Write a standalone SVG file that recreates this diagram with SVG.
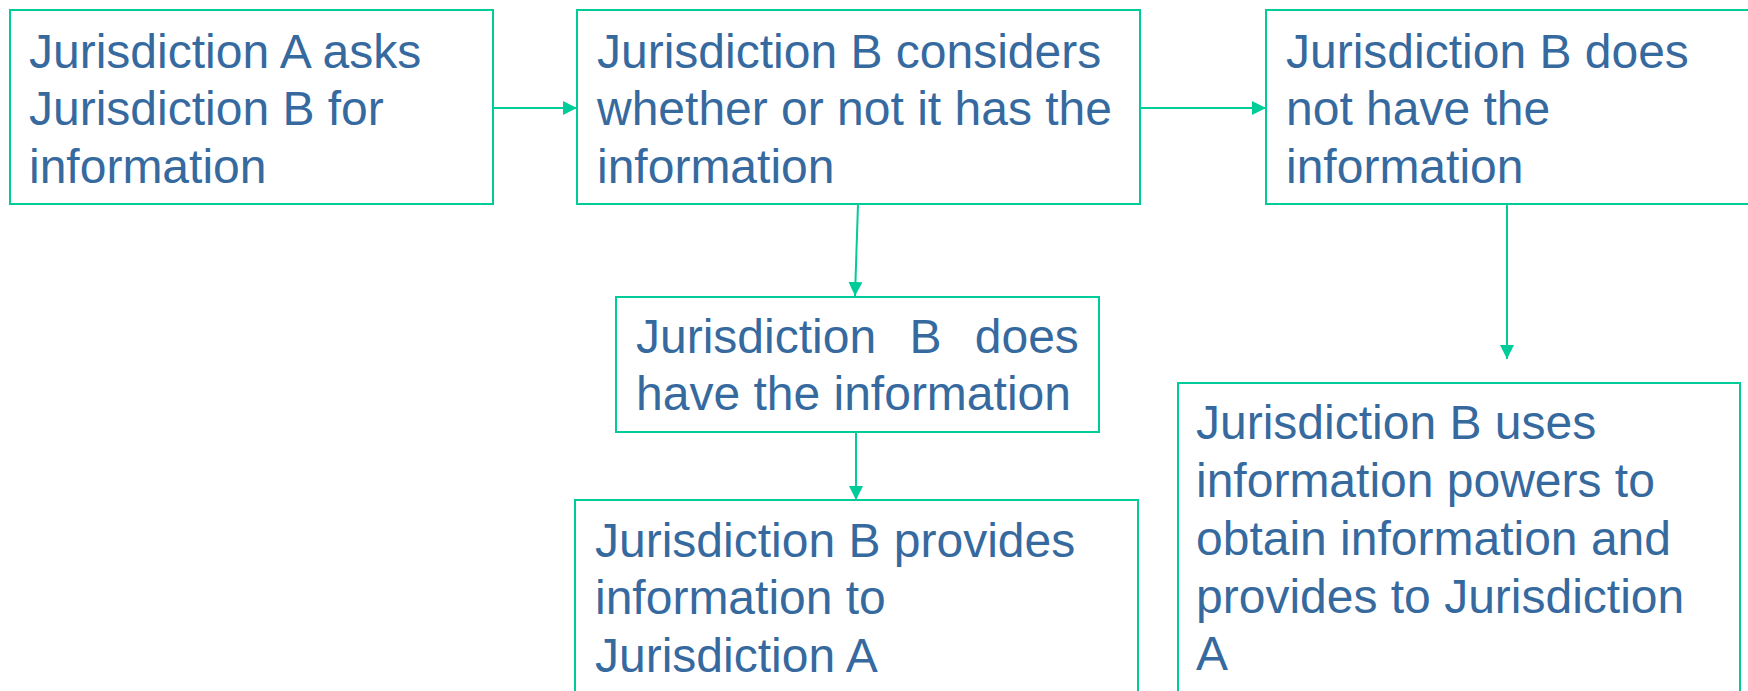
<svg xmlns="http://www.w3.org/2000/svg" width="1748" height="691" viewBox="0 0 1748 691">
<defs>
<style>
.box{fill:#ffffff;stroke:#00CC99;stroke-width:2}
.lbl{font-family:"Liberation Sans",Arial,sans-serif;font-size:48px;fill:#366A9F}
.conn{stroke:#00CC99;stroke-width:2;fill:none;marker-end:url(#ah)}
</style>
<marker id="ah" viewBox="0 0 14 14" refX="14" refY="7" markerWidth="14" markerHeight="14" markerUnits="userSpaceOnUse" orient="auto">
<path d="M0,0 L14,7 L0,14 Z" fill="#00CC99"/>
</marker>
</defs>
<rect width="1748" height="691" fill="#ffffff"/>
<g id="connectors">
<line class="conn" x1="493" y1="108" x2="577" y2="108"/>
<line class="conn" x1="1140" y1="108" x2="1266" y2="108"/>
<line class="conn" x1="858" y1="204" x2="855" y2="296"/>
<line class="conn" x1="856" y1="432" x2="856" y2="500"/>
<line class="conn" x1="1507" y1="204" x2="1507" y2="359"/>
</g>
<g id="node-a-asks">
<rect class="box" x="10" y="10" width="483" height="194"/>
<text class="lbl"><tspan x="29" y="68">Jurisdiction A asks</tspan><tspan x="29" y="125">Jurisdiction B for</tspan><tspan x="29" y="183">information</tspan></text>
</g>
<g id="node-b-considers">
<rect class="box" x="577" y="10" width="563" height="194"/>
<text class="lbl"><tspan x="597" y="68">Jurisdiction B considers</tspan><tspan x="597" y="125">whether or not it has the</tspan><tspan x="597" y="183">information</tspan></text>
</g>
<g id="node-b-not-have">
<rect class="box" x="1266" y="10" width="490" height="194"/>
<text class="lbl"><tspan x="1286" y="68">Jurisdiction B does</tspan><tspan x="1286" y="125">not have the</tspan><tspan x="1286" y="183">information</tspan></text>
</g>
<g id="node-b-has">
<rect class="box" x="616" y="297" width="483" height="135"/>
<text class="lbl"><tspan x="636" y="353" word-spacing="20">Jurisdiction B does</tspan><tspan x="636" y="410">have the information</tspan></text>
</g>
<g id="node-b-provides">
<rect class="box" x="575" y="500" width="563" height="200"/>
<text class="lbl"><tspan x="595" y="557">Jurisdiction B provides</tspan><tspan x="595" y="614">information to</tspan><tspan x="595" y="672">Jurisdiction A</tspan></text>
</g>
<g id="node-b-uses-powers">
<rect class="box" x="1178" y="383" width="562" height="320"/>
<text class="lbl"><tspan x="1196" y="439">Jurisdiction B uses</tspan><tspan x="1196" y="497">information powers to</tspan><tspan x="1196" y="555">obtain information and</tspan><tspan x="1196" y="613">provides to Jurisdiction</tspan><tspan x="1196" y="670">A</tspan></text>
</g>
</svg>
